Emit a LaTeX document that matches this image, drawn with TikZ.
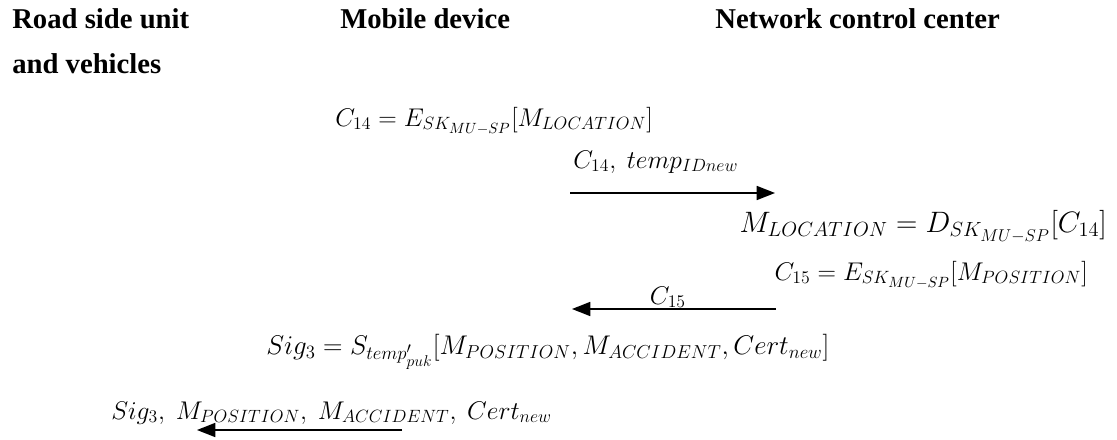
\documentclass[tikz,border=0pt]{standalone}
\usepackage{fontspec}
\setmainfont{Liberation Serif}
\usetikzlibrary{arrows.meta, calc, positioning}

\begin{document}
\begin{tikzpicture}[x=0.025cm, y=-0.025cm,
    heading/.style={font=\fontsize{20.4}{24}\selectfont\bfseries, inner sep=0pt, anchor=base west},
    eqn/.style={font=\fontsize{17.28}{21}\selectfont, inner sep=0pt, scale=1.053, transform shape},
    bigeqn/.style={font=\fontsize{20.74}{25}\selectfont, inner sep=0pt, scale=1.0125, transform shape},
    sigeqn/.style={font=\fontsize{20.74}{25}\selectfont, inner sep=0pt, scale=0.926, transform shape},
    msg/.style={line width=1pt, -{Triangle[length=13pt,width=10pt]}}]

    % Fix the picture size
    \useasboundingbox (0,0) rectangle (1117,440);

    % Draw the headings
    \node[heading] (rsu) at (12,29) {Road side unit};
    \node[heading] (rsuB) at (12,73) {and vehicles};
    \node[heading] (mob) at (340,29) {Mobile device};
    \node[heading] (ncc) at (715,29) {Network control center};

    % Define the message end points
    \coordinate (msgAs) at (570,193);
    \coordinate (msgAe) at (775,193);
    \coordinate (msgBs) at (776,309);
    \coordinate (msgBe) at (572,309);
    \coordinate (msgCs) at (402,430);
    \coordinate (msgCe) at (197,430);

    % Computations
    \node[eqn, anchor=base west] (encLoc) at (335,126) {$C_{14} = E_{SK_{MU-SP}}[M_{LOCATION}]$};
    \node[bigeqn, anchor=base east] (decLoc) at (1107,232) {$M_{LOCATION} = D_{SK_{MU-SP}}[C_{14}]$};
    \node[eqn, anchor=base east] (encPos) at (1088,280) {$C_{15} = E_{SK_{MU-SP}}[M_{POSITION}]$};
    \node[sigeqn, anchor=base west] (sigPos) at (266,354) {$Sig_3 = S_{temp'_{puk}}[M_{POSITION}, M_{ACCIDENT}, Cert_{new}\big]$};

    % Draw the messages
    \draw[msg] (msgAs) -- (msgAe);
    \node[eqn, anchor=base west] (lblA) at ($(msgAs)+(3,-25)$) {$C_{14},\ temp_{IDnew}$};
    \draw[msg] (msgBs) -- (msgBe);
    \node[eqn, anchor=base] (lblB) at ($(msgBs)!0.53!(msgBe)+(0,-5)$) {$C_{15}$};
    \draw[msg] (msgCs) -- (msgCe);
    \node[eqn, anchor=base west] (lblC) at (111,419) {$Sig_3,\ M_{POSITION},\ M_{ACCIDENT},\ Cert_{new}$};

\end{tikzpicture}
\end{document}
